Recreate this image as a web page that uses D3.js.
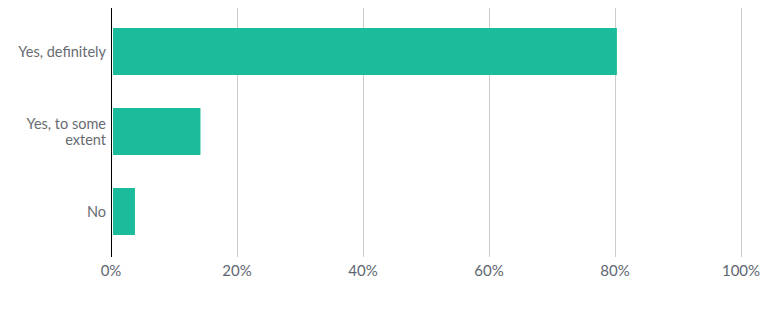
<!DOCTYPE html>
<html>
<head>
<meta charset="utf-8">
<script src="https://cdn.jsdelivr.net/npm/d3@7"></script>
<style>
  body { margin: 0; background: #fff; }
  svg { display: block; font-family: Lato, sans-serif; }
</style>
</head>
<body>
<svg id="vis" width="774" height="312"></svg>
<script>
const categories = ["Yes, definitely", "Yes, to some extent", "No"];
const labelLines = [["Yes, definitely"], ["Yes, to some", "extent"], ["No"]];
const values = [80.3, 14.2, 3.8];
const ticks = [0, 20, 40, 60, 80, 100];

const svg = d3.select("#vis");
const plotLeft = 111, plotRight = 741, plotTop = 8, plotBottom = 257;

const x = d3.scaleLinear().domain([0, 100]).range([plotLeft, plotRight]);
const y = d3.scaleBand().domain(categories)
  .range([11.5, 251.5]).paddingInner(0.4125).paddingOuter(0.20625);

// grid
svg.append("g").selectAll("line")
  .data(ticks.slice(1))
  .enter().append("line")
  .attr("x1", d => x(d) + 0.5).attr("x2", d => x(d) + 0.5)
  .attr("y1", plotTop).attr("y2", plotBottom)
  .attr("stroke", "#cccccc");

// bars
svg.append("g").selectAll("rect")
  .data(values)
  .enter().append("rect")
  .attr("x", x(0) + 2)
  .attr("y", (d, i) => y(categories[i]))
  .attr("width", d => x(d) - x(0) - 2)
  .attr("height", y.bandwidth())
  .attr("fill", "#1abc9c");

// axis line
svg.append("line")
  .attr("x1", plotLeft + 0.5).attr("x2", plotLeft + 0.5)
  .attr("y1", plotTop).attr("y2", plotBottom)
  .attr("stroke", "#000");

// tick labels
svg.append("g").selectAll("text")
  .data(ticks)
  .enter().append("text")
  .attr("x", d => x(d))
  .attr("y", 276)
  .attr("text-anchor", "middle")
  .attr("fill", "#5e6672")
  .style("font-size", "15px")
  .text(d => d + "%");

// category labels
const lab = svg.append("g").selectAll("text")
  .data(labelLines)
  .enter().append("text")
  .attr("text-anchor", "end")
  .attr("fill", "#676c72")
  .style("font-size", "14.5px")
  .attr("transform", (d, i) => {
    const c = y(categories[i]) + y.bandwidth() / 2;
    return "translate(106," + (c + 5 - (d.length - 1) * 8) + ")";
  });
lab.selectAll("tspan")
  .data(d => d)
  .enter().append("tspan")
  .attr("x", 0)
  .attr("dy", (d, i) => i ? 16 : 0)
  .text(d => d);
</script>
</body>
</html>
